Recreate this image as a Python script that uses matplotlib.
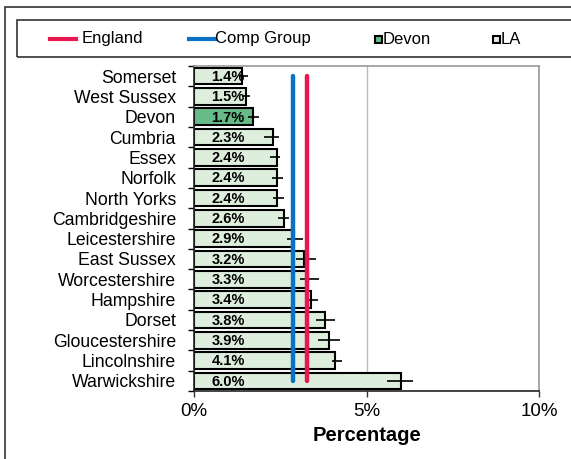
import matplotlib.pyplot as plt
from matplotlib.patches import Rectangle
from matplotlib.lines import Line2D
import numpy as np

plt.rcParams['font.family'] = ['Liberation Sans', 'DejaVu Sans']

areas = ['Somerset', 'West Sussex', 'Devon', 'Cumbria', 'Essex', 'Norfolk',
         'North Yorks', 'Cambridgeshire', 'Leicestershire', 'East Sussex',
         'Worcestershire', 'Hampshire', 'Dorset', 'Gloucestershire',
         'Lincolnshire', 'Warwickshire']
values = [1.4, 1.5, 1.7, 2.3, 2.4, 2.4, 2.4, 2.6, 2.9, 3.2, 3.3, 3.4, 3.8, 3.9, 4.1, 6.0]
err_lo = [1.30, 1.39, 1.56, 2.02, 2.20, 2.25, 2.28, 2.43, 2.69, 2.95, 3.06, 3.30, 3.53, 3.58, 3.99, 5.58]
err_hi = [1.56, 1.62, 1.88, 2.46, 2.49, 2.57, 2.60, 2.75, 3.15, 3.53, 3.61, 3.58, 4.08, 4.22, 4.30, 6.36]
highlight = 'Devon'
england = 3.27
comp_group = 2.86

LA_COL = '#ddeedd'
DEVON_COL = '#66bb88'
ENG_COL = '#e8174f'
COMP_COL = '#0a72c6'

fig = plt.figure(figsize=(5.71, 4.59), dpi=100)
W, H = 571, 459

# outer chart border (runs off right/bottom edges)
fig.add_artist(Rectangle((5 / W, -0.1), 1.2, 1 - 7 / H + 0.1, transform=fig.transFigure,
                         fill=False, ec='#333333', lw=1.2))

ax = fig.add_axes([194 / W, 1 - 391 / H, 345 / W, 325 / H])
y = np.arange(len(areas))
cols = [DEVON_COL if a == highlight else LA_COL for a in areas]
ax.barh(y, values, height=0.82, color=cols, edgecolor='black', linewidth=1.5, zorder=2)

vals = np.array(values)
xerr = [vals - np.array(err_lo), np.array(err_hi) - vals]
ax.errorbar(values, y, xerr=xerr, fmt='none', ecolor='black', elinewidth=1.2, capsize=0, zorder=3)
ax.plot(values, y, ls='none', marker='|', ms=9, mew=1.2, color='black', zorder=3)

for yi, v in zip(y, values):
    ax.text(0.5, yi + 0.38, f'{v:.1f}%', fontsize=10.5, fontweight='bold', ha='left', va='bottom', zorder=4)

ax.vlines(comp_group, 0, 15, color=COMP_COL, lw=3.2, capstyle='round', zorder=5)
ax.vlines(england, 0, 15, color=ENG_COL, lw=3.2, capstyle='round', zorder=5)

ax.set_xlim(0, 10)
ax.set_ylim(len(areas) - 0.5, -0.5)
ax.set_xticks([0, 5, 10])
ax.set_xticklabels(['0%', '5%', '10%'], fontsize=13.5)
ax.set_yticks(y)
ax.set_yticklabels(areas, fontsize=12.7)
ax.set_yticks(np.arange(len(areas) + 1) - 0.5, minor=True)
ax.tick_params(axis='y', which='major', length=0, pad=13)
ax.tick_params(axis='y', which='minor', length=4, width=1, direction='out')
ax.tick_params(axis='x', length=4, width=1, pad=5, color='#333333')
ax.xaxis.grid(True, color='#bbbbbb', lw=1)
ax.set_axisbelow(True)
ax.set_xlabel('Percentage', fontsize=14.5, fontweight='bold', labelpad=4)
for s in ['top', 'right']:
    ax.spines[s].set_color('#999999')
    ax.spines[s].set_linewidth(1.2)
for s in ['left', 'bottom']:
    ax.spines[s].set_color('#222222')
    ax.spines[s].set_linewidth(1.2)

# legend box
fig.add_artist(Rectangle((17 / W, 1 - 57 / H), 1.0, 37 / H, transform=fig.transFigure,
                         fill=False, ec='#333333', lw=1.2))
ly = 1 - 39 / H
fig.add_artist(Line2D([50 / W, 76 / W], [ly, ly], color=ENG_COL, lw=3))
fig.text(82 / W, ly, 'England', fontsize=12, va='center')
fig.add_artist(Line2D([189 / W, 215 / W], [ly, ly], color=COMP_COL, lw=3))
fig.text(215 / W, ly, 'Comp Group', fontsize=12, va='center')
fig.add_artist(Rectangle((375 / W, ly - 3.5 / H), 7 / W, 7 / H, transform=fig.transFigure,
                         fc=DEVON_COL, ec='black', lw=1.5))
fig.text(383 / W, ly, 'Devon', fontsize=12, va='center')
fig.add_artist(Rectangle((493 / W, ly - 3.5 / H), 7 / W, 7 / H, transform=fig.transFigure,
                         fc=LA_COL, ec='black', lw=1.5))
fig.text(501 / W, ly, 'LA', fontsize=12, va='center')

fig.savefig('out.png', dpi=100)
